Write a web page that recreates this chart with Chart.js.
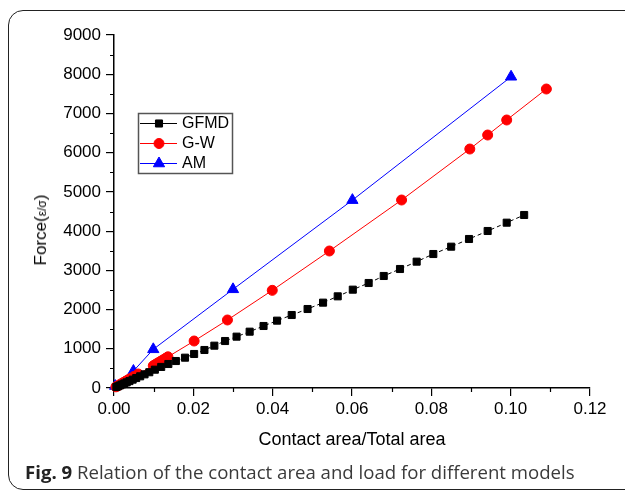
<!DOCTYPE html>
<html>
<head>
<meta charset="utf-8">
<script src="https://cdn.jsdelivr.net/npm/chart.js@4"></script>
<style>
  body { margin: 0; background: #fff; }
  #wrap { position: relative; width: 625px; height: 492px; overflow: hidden; }
  #frame { position: absolute; left: 8px; top: 10px; width: 640px; height: 480px;
           border: 1.5px solid #222; border-radius: 15px; box-sizing: border-box; }
  #myChart { position: absolute; left: 0; top: 0; }
  #ytitle { position: absolute; left: 41px; top: 230px; transform: translate(-50%, -50%) rotate(-90deg);
            font: 17px "Liberation Sans", Arial, sans-serif; color: #000; white-space: nowrap; }
  #ytitle span { font-size: 12px; }
  #caption { position: absolute; left: 25px; top: 459px; font: 18.6px "Open Sans", sans-serif;
             color: #3a3a3a; white-space: nowrap; }
  #caption b { color: #222; }
</style>
</head>
<body>
<div id="wrap">
  <div id="frame"></div>
  <canvas id="myChart" width="625" height="492"></canvas>
  <div id="ytitle">Force(<span>ε/σ</span>)</div>
  <div id="caption"><b>Fig. 9</b> Relation of the contact area and load for different models</div>
</div>
<script>
// GFMD
var gfmdX = [0.0006, 0.0010, 0.0015, 0.0020, 0.0026, 0.0032, 0.0039, 0.0047, 0.0056, 0.0066,
	0.0077, 0.0089, 0.0103, 0.0119, 0.0137, 0.0156, 0.0179, 0.0202, 0.0228, 0.0253,
	0.0280, 0.0309, 0.0342, 0.0377, 0.0411, 0.0448, 0.0488, 0.0527, 0.0564, 0.0602,
	0.0642, 0.0680, 0.0721, 0.0763, 0.0805, 0.0850, 0.0895, 0.0942, 0.0990, 0.1034];
var gfmdY = [25, 44, 66, 90, 116, 144, 176, 213, 254, 298,
	348, 402, 467, 537, 612, 688, 773, 867, 969, 1079,
	1198, 1309, 1436, 1581, 1717, 1861, 2014, 2176, 2337, 2507,
	2677, 2856, 3034, 3221, 3416, 3603, 3799, 4003, 4215, 4411];

// G-W
var gwX = [0.0005, 0.0010, 0.0015, 0.0020, 0.0025, 0.0030, 0.0035, 0.0040, 0.0050, 0.0061,
	0.0099, 0.0103, 0.0107, 0.0111, 0.0115, 0.0119, 0.0123, 0.0127, 0.0131, 0.0136,
	0.0202, 0.0286, 0.0399, 0.0543, 0.0725, 0.0897, 0.0942, 0.0990, 0.1090];
var gwY = [30, 58, 88, 117, 146, 176, 205, 235, 293, 357,
	565, 590, 614, 638, 662, 686, 710, 735, 760, 795,
	1198, 1734, 2490, 3493, 4793, 6093, 6450, 6833, 7623];

// AM
var amX = [0.0003, 0.0049, 0.0099, 0.0300, 0.0601, 0.1001];
var amY = [50, 433, 986, 2516, 4790, 7935];

var xTicks = [0, 0.02, 0.04, 0.06, 0.08, 0.10, 0.12];
var yTicks = [0, 1000, 2000, 3000, 4000, 5000, 6000, 7000, 8000, 9000];
var legendNames = ["GFMD", "G-W", "AM"];

function pts(xs, ys) {
	var out = [];
	for (var i = 0; i < xs.length; i++) {
		out.push({ x: xs[i], y: ys[i] });
	}
	return out;
}

Chart.defaults.font.family = '"Liberation Sans", Arial, sans-serif';
Chart.defaults.color = "#000";

// minor ticks halfway between the labelled ones
var minorTicks = {
	id: "minorTicks",
	afterDraw: function(chart) {
		var ctx = chart.ctx;
		var xs = chart.scales.x, ys = chart.scales.y;
		var area = chart.chartArea;
		ctx.save();
		ctx.strokeStyle = "#000";
		ctx.lineWidth = 1.2;
		ctx.beginPath();
		for (var i = 0; i < yTicks.length - 1; i++) {
			var py = Math.round(ys.getPixelForValue((yTicks[i] + yTicks[i + 1]) / 2)) + 0.5;
			ctx.moveTo(area.left - 4, py);
			ctx.lineTo(area.left, py);
		}
		for (var i = 0; i < xTicks.length - 1; i++) {
			var px = Math.round(xs.getPixelForValue((xTicks[i] + xTicks[i + 1]) / 2)) + 0.5;
			ctx.moveTo(px, area.bottom);
			ctx.lineTo(px, area.bottom + 4);
		}
		ctx.stroke();
		ctx.restore();
	}
};

// legend box inside the plot
var boxLegend = {
	id: "boxLegend",
	afterDraw: function(chart) {
		var ctx = chart.ctx;
		ctx.save();
		ctx.strokeStyle = "#555";
		ctx.lineWidth = 1.5;
		ctx.strokeRect(138.5, 113.5, 94, 60);
		for (var i = 0; i < chart.data.datasets.length; i++) {
			var ds = chart.data.datasets[i];
			var y = 123 + i * 20;
			ctx.strokeStyle = ds.borderColor;
			ctx.lineWidth = 1;
			ctx.setLineDash([]);
			ctx.beginPath();
			ctx.moveTo(140, y + 0.5);
			ctx.lineTo(177, y + 0.5);
			ctx.stroke();
			ctx.fillStyle = ds.pointBackgroundColor;
			ctx.strokeStyle = ds.pointBorderColor;
			Chart.helpers.drawPoint(ctx, {
				pointStyle: ds.pointStyle,
				radius: ds.pointRadius,
				rotation: 0,
				borderWidth: 1
			}, 159, y + 0.5);
			ctx.fillStyle = "#000";
			ctx.font = '16px "Liberation Sans", Arial, sans-serif';
			ctx.textBaseline = "middle";
			ctx.textAlign = "left";
			ctx.fillText(legendNames[i], 182, y + 1);
		}
		ctx.restore();
	}
};

var myChart = document.getElementById("myChart");
new Chart(myChart, {
	type: "scatter",
	data: {
		datasets: [
			{
				label: legendNames[0],
				data: pts(gfmdX, gfmdY),
				showLine: true,
				borderColor: "#000",
				borderWidth: 1,
				borderDash: [4, 3],
				pointStyle: "rect",
				pointRadius: 5,
				pointBackgroundColor: "#000",
				pointBorderColor: "#000",
				pointBorderWidth: 1
			},
			{
				label: legendNames[1],
				data: pts(gwX, gwY),
				showLine: true,
				borderColor: "#ff0000",
				borderWidth: 1,
				pointStyle: "circle",
				pointRadius: 5,
				pointBackgroundColor: "#ff0000",
				pointBorderColor: "#ff0000",
				pointBorderWidth: 1
			},
			{
				label: legendNames[2],
				data: pts(amX, amY),
				showLine: true,
				borderColor: "#0000ff",
				borderWidth: 1,
				pointStyle: "triangle",
				pointRadius: 6.5,
				pointBackgroundColor: "#0000ff",
				pointBorderColor: "#0000ff",
				pointBorderWidth: 1
			}
		]
	},
	options: {
		responsive: false,
		animation: false,
		clip: false,
		layout: { padding: { left: 0, top: 35, right: 35, bottom: 40 } },
		plugins: {
			legend: { display: false },
			tooltip: { enabled: false }
		},
		scales: {
			x: {
				type: "linear",
				min: 0,
				max: 0.12,
				afterFit: function(scale) { scale.height = 64; },
				afterBuildTicks: function(scale) {
					scale.ticks = xTicks.map(function(v) { return { value: v }; });
				},
				ticks: {
					font: { size: 17 },
					padding: 3,
					callback: function(v) { return v.toFixed(2); }
				},
				grid: { display: true, drawOnChartArea: false, tickLength: 8, color: "#000", lineWidth: 1.2 },
				border: { display: true, color: "#000", width: 1.5 },
				title: {
					display: true,
					text: "Contact area/Total area",
					font: { size: 18 },
					padding: { top: 0, bottom: 1 }
				}
			},
			y: {
				type: "linear",
				min: 0,
				max: 9000,
				afterFit: function(scale) { scale.width = 114; },
				afterBuildTicks: function(scale) {
					scale.ticks = yTicks.map(function(v) { return { value: v }; });
				},
				ticks: {
					font: { size: 17 },
					padding: 5,
					callback: function(v) { return String(v); }
				},
				grid: { display: true, drawOnChartArea: false, tickLength: 8, color: "#000", lineWidth: 1.2 },
				border: { display: true, color: "#000", width: 1.5 }
			}
		}
	},
	plugins: [minorTicks, boxLegend]
});
</script>
</body>
</html>
